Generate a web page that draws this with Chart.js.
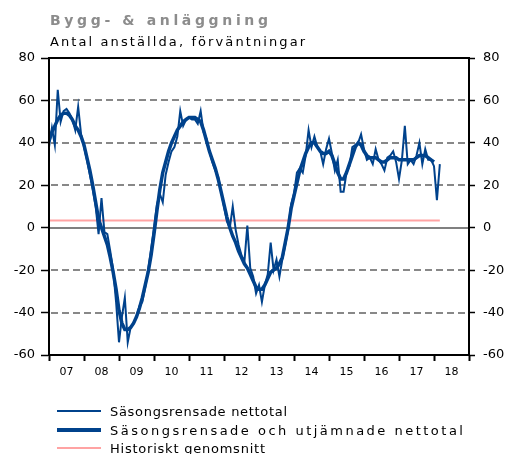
<!DOCTYPE html>
<html>
<head>
<meta charset="utf-8">
<script src="https://cdn.jsdelivr.net/npm/chart.js@4.4.1/dist/chart.umd.min.js"></script>
<style>
  html, body { margin: 0; padding: 0; background: #fff; }
  body { width: 510px; height: 454px; overflow: hidden; }
</style>
</head>
<body>
<canvas id="chart" width="510" height="454"></canvas>

<script>
// ---- data (monthly, Jan 2007 = month 0) ----
const yearLabels = ['07', '08', '09', '10', '11', '12', '13', '14', '15', '16', '17', '18'];

// Säsongsrensade nettotal
const rawValues = [
  38, 47, 39, 65, 50, 55, 56, 54, 51, 46, 57, 44,      // 2007
  38, 32, 25, 18, 10, -3, 14, -2, -3, -11, -20, -35,   // 2008
  -54, -42, -33, -54, -47, -45, -42, -37, -35, -28, -20, -10, // 2009
  0, 11, 16, 12, 25, 31, 36, 38, 43, 55, 48, 51,       // 2010
  52, 51, 51, 49, 55, 45, 42, 36, 31, 27, 24, 17,      // 2011
  10, 3, 0, 10, -1, -8, -13, -16, 1, -19, -23, -31,    // 2012
  -27, -35, -27, -22, -7, -20, -15, -23, -15, -8, -1, 11, // 2013
  16, 26, 28, 26, 34, 46, 38, 43, 38, 36, 30, 37,      // 2014
  42, 35, 27, 32, 17, 17, 26, 29, 38, 39, 40, 44,      // 2015
  37, 32, 33, 30, 37, 32, 30, 27, 33, 34, 36, 31,      // 2016
  23, 32, 48, 30, 32, 30, 34, 40, 30, 37, 32, 32,      // 2017
  29, 13, 30                                           // 2018
];

// Säsongsrensade och utjämnade nettotal
const smoothValues = [
  41, 45, 48, 51, 53, 54, 54, 53, 51, 48, 46, 43,
  39, 33, 27, 20, 12, 4, 0, -4, -8, -14, -21, -29,
  -39, -45, -48, -48, -47, -45, -42, -38, -33, -27, -21, -13,
  -3, 8, 18, 26, 31, 36, 40, 43, 46, 48, 50, 51,
  52, 52, 52, 51, 50, 46, 41, 36, 32, 28, 23, 17,
  11, 5, 0, -4, -7, -11, -14, -17, -19, -22, -25, -28,
  -29, -29, -27, -24, -21, -20, -19, -17, -14, -7, 0, 9,
  15, 21, 27, 31, 35, 38, 40, 40, 38, 36, 35, 35,
  36, 34, 30, 26, 23, 23, 26, 30, 34, 38, 40, 39,
  36, 34, 33, 33, 33, 32, 31, 31, 32, 33, 33, 33,
  32, 32, 32, 32, 32, 32, 33, 34, 34, 34, 33, 32,
  31
];

// Historiskt genomsnitt
const historicalAvg = 3.4;

const yTicks = [-60, -40, -20, 0, 20, 40, 60, 80];

const BLUE = '#00428c';
const PINK = '#ffa3a3';

const toPoints = arr => arr.map((v, i) => ({ x: i, y: v }));
const avgPoints = [{ x: 0, y: historicalAvg }, { x: rawValues.length - 1, y: historicalAvg }];

// text stretched (letter spacing) to the width it covers in the source picture
function spacedText(ctx, text, x, y, width) {
  ctx.letterSpacing = '0px';
  const natural = ctx.measureText(text).width;
  const gap = Math.max(0, (width - natural) / (text.length - 1));
  if ('letterSpacing' in ctx) {
    ctx.letterSpacing = gap.toFixed(2) + 'px';
    ctx.fillText(text, x, y);
    ctx.letterSpacing = '0px';
  } else {
    let cx = x;
    for (const ch of text) {
      ctx.fillText(ch, cx, y);
      cx += ctx.measureText(ch).width + gap;
    }
  }
}

// dashed grid, zero line, frame, headings and legend
const framePlugin = {
  id: 'frame',
  beforeDatasetsDraw(chart) {
    const { ctx, chartArea: a, scales } = chart;
    ctx.save();
    ctx.lineWidth = 2;
    ctx.strokeStyle = '#888888';
    yTicks.forEach(v => {
      if (v === 0 || v === 80 || v === -60) return;
      const y = Math.round(scales.y.getPixelForValue(v));
      for (let x = a.left + 2; x < a.right; x += 11) {
        ctx.beginPath();
        ctx.moveTo(x, y);
        ctx.lineTo(Math.min(x + 7, a.right), y);
        ctx.stroke();
      }
    });
    const y0 = Math.round(scales.y.getPixelForValue(0));
    ctx.strokeStyle = '#808080';
    ctx.beginPath();
    ctx.moveTo(a.left, y0);
    ctx.lineTo(a.right, y0);
    ctx.stroke();
    ctx.restore();
  },
  afterDatasetsDraw(chart) {
    const { ctx, chartArea: a } = chart;
    ctx.save();
    ctx.strokeStyle = '#000';
    ctx.lineWidth = 2;
    ctx.strokeRect(a.left, a.top, a.right - a.left, a.bottom - a.top);
    ctx.restore();
  },
  afterDraw(chart) {
    const ctx = chart.ctx;
    ctx.save();
    ctx.textBaseline = 'alphabetic';
    ctx.textAlign = 'left';
    ctx.fillStyle = '#8c8c8c';
    ctx.font = "bold 14px 'DejaVu Sans'";
    spacedText(ctx, 'Bygg- & anläggning', 50, 25, 218);
    ctx.fillStyle = '#000';
    ctx.font = "13px 'DejaVu Sans'";
    spacedText(ctx, 'Antal anställda, förväntningar', 50, 46, 255);

    const items = [
      { text: 'Säsongsrensade nettotal', color: BLUE, width: 2, y: 411, span: 177 },
      { text: 'Säsongsrensade och utjämnade nettotal', color: BLUE, width: 4, y: 430, span: 353 },
      { text: 'Historiskt genomsnitt', color: PINK, width: 2, y: 448, span: 155 }
    ];
    items.forEach(it => {
      ctx.strokeStyle = it.color;
      ctx.lineWidth = it.width;
      ctx.beginPath();
      ctx.moveTo(57, it.y);
      ctx.lineTo(101, it.y);
      ctx.stroke();
      ctx.fillStyle = '#000';
      spacedText(ctx, it.text, 110, it.y + 5, it.span);
    });
    ctx.restore();
  }
};

const tickFont = { family: 'DejaVu Sans', size: 13 };

new Chart(document.getElementById('chart'), {
  type: 'line',
  data: {
    datasets: [
      {
        label: 'Historiskt genomsnitt',
        data: avgPoints,
        borderColor: PINK,
        borderWidth: 2,
        pointRadius: 0,
        order: 3
      },
      {
        label: 'Säsongsrensade nettotal',
        data: toPoints(rawValues),
        borderColor: BLUE,
        borderWidth: 2,
        pointRadius: 0,
        tension: 0,
        order: 2
      },
      {
        label: 'Säsongsrensade och utjämnade nettotal',
        data: toPoints(smoothValues),
        borderColor: BLUE,
        borderWidth: 3.5,
        pointRadius: 0,
        tension: 0,
        order: 1
      }
    ]
  },
  options: {
    responsive: false,
    animation: false,
    layout: { padding: { top: 58, left: 0, right: 0, bottom: 0 } },
    plugins: { legend: { display: false }, tooltip: { enabled: false } },
    scales: {
      x: {
        type: 'linear',
        min: 0,
        max: 144,
        afterBuildTicks: scale => {
          const t = [];
          for (let v = 0; v <= 144; v += 6) t.push({ value: v });
          scale.ticks = t;
        },
        afterFit: scale => { scale.height = 99; },
        ticks: {
          autoSkip: false,
          maxRotation: 0,
          padding: 5,
          color: '#000',
          font: { family: 'DejaVu Sans', size: 11 },
          callback: v => (v % 12 === 6 ? yearLabels[(v - 6) / 12] : '')
        },
        grid: {
          drawOnChartArea: false,
          tickLength: 6,
          tickWidth: 2,
          tickColor: c => (c.tick && c.tick.value % 12 === 0 ? '#000' : 'rgba(0,0,0,0)')
        },
        border: { display: true, color: '#000', width: 2 }
      },
      y: {
        position: 'left',
        min: -60,
        max: 80,
        afterBuildTicks: scale => { scale.ticks = yTicks.map(v => ({ value: v })); },
        afterFit: scale => { scale.width = 49; },
        ticks: { color: '#000', font: tickFont, padding: 6 },
        grid: {
          drawOnChartArea: false,
          tickLength: 8,
          tickColor: '#000',
          tickWidth: 1.5
        },
        border: { display: true, color: '#000', width: 2 }
      },
      y2: {
        position: 'right',
        min: -60,
        max: 80,
        afterBuildTicks: scale => { scale.ticks = yTicks.map(v => ({ value: v })); },
        afterFit: scale => { scale.width = 41; },
        ticks: { color: '#000', font: tickFont, padding: 8 },
        grid: {
          drawOnChartArea: false,
          tickLength: 6,
          tickColor: '#000',
          tickWidth: 1.5
        },
        border: { display: true, color: '#000', width: 2 }
      }
    }
  },
  plugins: [framePlugin]
});
</script>
</body>
</html>
